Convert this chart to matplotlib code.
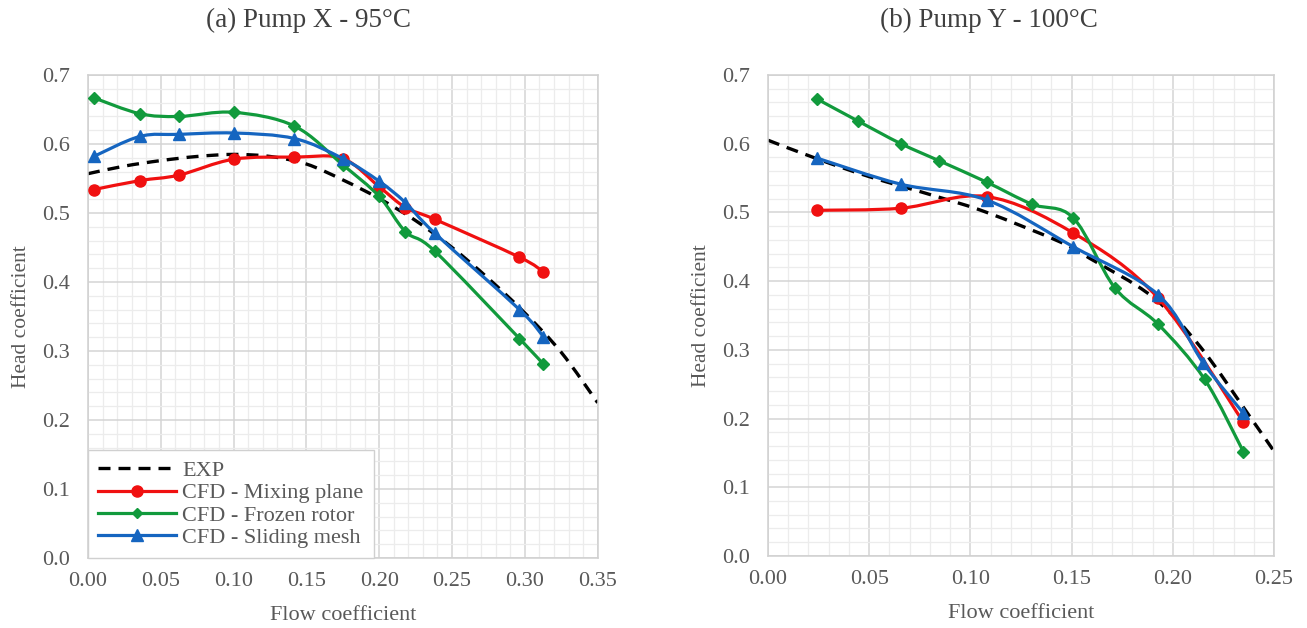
import numpy as np
import matplotlib
matplotlib.use('Agg')
import matplotlib.pyplot as plt
from matplotlib.path import Path
from matplotlib.patches import PathPatch
from matplotlib.lines import Line2D
from matplotlib.ticker import MultipleLocator

plt.rcParams['font.family'] = ['Liberation Serif', 'DejaVu Serif']

# ---- Pump X (95 C) ----
x_exp_a = [0.0, 0.025, 0.05, 0.075, 0.10, 0.125, 0.15, 0.175, 0.20, 0.225, 0.25, 0.275, 0.30, 0.325, 0.35]
y_exp_a = [0.557, 0.568, 0.576, 0.582, 0.585, 0.582, 0.571, 0.548, 0.521, 0.489, 0.450, 0.405, 0.355, 0.298, 0.225]

x_cfd_a = [0.004, 0.0356, 0.0626, 0.100, 0.1418, 0.1749, 0.200, 0.218, 0.238, 0.2963, 0.3126]
y_mix_a = [0.534, 0.547, 0.555, 0.578, 0.581, 0.579, 0.538, 0.508, 0.491, 0.436, 0.415]
y_frz_a = [0.667, 0.644, 0.640, 0.646, 0.626, 0.570, 0.524, 0.473, 0.445, 0.318, 0.281]
y_sld_a = [0.582, 0.611, 0.614, 0.616, 0.608, 0.579, 0.546, 0.515, 0.471, 0.360, 0.321]

# ---- Pump Y (100 C) ----
x_exp_b = [0.0, 0.0242, 0.05, 0.0834, 0.108, 0.1443, 0.159, 0.190, 0.2134, 0.238, 0.251]
y_exp_b = [0.605, 0.578, 0.552, 0.523, 0.500, 0.457, 0.433, 0.377, 0.305, 0.203, 0.148]

x_mix_b = [0.0242, 0.0656, 0.108, 0.1508, 0.1928, 0.2348]
y_mix_b = [0.503, 0.506, 0.523, 0.470, 0.375, 0.195]
x_frz_b = [0.0242, 0.0444, 0.0656, 0.0846, 0.108, 0.1303, 0.1508, 0.1714, 0.1928, 0.2157, 0.2348]
y_frz_b = [0.665, 0.633, 0.600, 0.575, 0.544, 0.512, 0.492, 0.390, 0.337, 0.257, 0.152]
x_sld_b = [0.0242, 0.0656, 0.108, 0.1508, 0.1928, 0.215, 0.2348]
y_sld_b = [0.579, 0.541, 0.518, 0.450, 0.380, 0.281, 0.208]

titles = ['(a) Pump X - 95°C', '(b) Pump Y - 100°C']
labels = ['EXP', 'CFD - Mixing plane', 'CFD - Frozen rotor', 'CFD - Sliding mesh']

RED = '#f01010'
GREEN = '#119a3c'
BLUE = '#1565c0'
TXT = '#595959'


def smooth_path(x, y):
    # Excel-like smoothed line: cubic bezier through every point
    x = np.asarray(x, float)
    y = np.asarray(y, float)
    verts = [(x[0], y[0])]
    codes = [Path.MOVETO]
    n = len(x)
    for i in range(n - 1):
        i0 = max(i - 1, 0)
        i3 = min(i + 2, n - 1)
        c1 = (x[i] + (x[i + 1] - x[i0]) / 6.0, y[i] + (y[i + 1] - y[i0]) / 6.0)
        c2 = (x[i + 1] - (x[i3] - x[i]) / 6.0, y[i + 1] - (y[i3] - y[i]) / 6.0)
        verts += [c1, c2, (x[i + 1], y[i + 1])]
        codes += [Path.CURVE4] * 3
    return Path(verts, codes)


def draw_line(ax, x, y, color, lw=2.3, ls='-', z=3):
    p = PathPatch(smooth_path(x, y), facecolor='none', edgecolor=color,
                  lw=lw, linestyle=ls, zorder=z, capstyle='butt')
    ax.add_patch(p)


def setup(ax, xmax):
    ax.set_xlim(0, xmax)
    ax.set_ylim(0, 0.7)
    ax.xaxis.set_major_locator(MultipleLocator(0.05))
    ax.xaxis.set_minor_locator(MultipleLocator(0.01))
    ax.yaxis.set_major_locator(MultipleLocator(0.1))
    ax.yaxis.set_minor_locator(MultipleLocator(0.02))
    ax.grid(which='major', color='#d4d4d4', lw=1.1)
    ax.grid(which='minor', color='#ececec', lw=0.9)
    ax.set_axisbelow(True)
    for s in ax.spines.values():
        s.set_color('#d0d0d0')
        s.set_linewidth(1.1)
    ax.tick_params(which='both', length=0, labelsize=16, colors=TXT)
    ax.tick_params(axis='x', pad=10)
    ax.tick_params(axis='y', pad=13)
    ax.xaxis.set_major_formatter(plt.FuncFormatter(lambda v, p: '%.2f' % v))
    ax.yaxis.set_major_formatter(plt.FuncFormatter(lambda v, p: '%.1f' % v))
    ax.set_xlabel('Flow coefficient', fontsize=16, color=TXT, labelpad=11)
    ax.set_ylabel('Head coefficient', fontsize=15.5, color=TXT, labelpad=8)


fig = plt.figure(figsize=(13.07, 6.28), dpi=100)
ax1 = fig.add_axes([0.0673, 0.1115, 0.390, 0.769])
ax2 = fig.add_axes([0.5876, 0.1147, 0.3872, 0.766])

setup(ax1, 0.35)
setup(ax2, 0.25)

# chart titles are centred on the whole chart area, not on the plot area
fig.text(309 / 1307, 1 - 20 / 628, titles[0], fontsize=19.5, color='#404040',
         ha='center', va='center')
fig.text(989 / 1307, 1 - 20 / 628, titles[1], fontsize=19.5, color='#404040',
         ha='center', va='center')

panels = [
    (ax1, x_exp_a, y_exp_a, x_cfd_a, y_mix_a, x_cfd_a, y_frz_a, x_cfd_a, y_sld_a),
    (ax2, x_exp_b, y_exp_b, x_mix_b, y_mix_b, x_frz_b, y_frz_b, x_sld_b, y_sld_b),
]

for ax, xe, ye, xm, ym, xf, yf, xs, ys in panels:
    draw_line(ax, xe, ye, 'black', lw=2.4, ls=(0, (3.6, 2.4)), z=2)
    draw_line(ax, xm, ym, RED, z=3)
    ax.plot(xm, ym, 'o', color=RED, ms=8, zorder=4)
    draw_line(ax, xf, yf, GREEN, z=5)
    ax.plot(xf, yf, 'D', color=GREEN, ms=6.5, zorder=6)
    draw_line(ax, xs, ys, BLUE, z=7)
    ax.plot(xs, ys, '^', color=BLUE, ms=9, zorder=8)

handles = [
    Line2D([], [], color='black', lw=2.4, ls=(0, (3.6, 2.4))),
    Line2D([], [], color=RED, lw=2.3, marker='o', ms=8),
    Line2D([], [], color=GREEN, lw=2.3, marker='D', ms=5),
    Line2D([], [], color=BLUE, lw=2.3, marker='^', ms=8),
]
leg = ax1.legend(handles, labels, loc='lower left', fontsize=16, frameon=True,
                 fancybox=False, edgecolor='#d0d0d0', framealpha=1,
                 borderaxespad=0, handlelength=3.5, labelspacing=0.08,
                 borderpad=0.45, handletextpad=0.3)
leg.get_frame().set_linewidth(1.0)
for t in leg.get_texts():
    t.set_color(TXT)

fig.savefig('out.png', dpi=100, facecolor='white')
